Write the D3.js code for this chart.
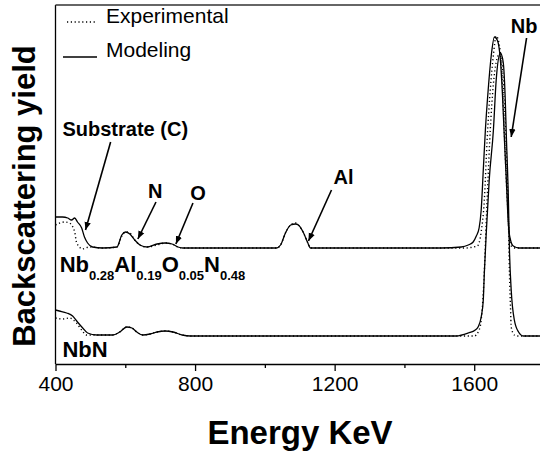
<!DOCTYPE html>
<html>
<head>
<meta charset="utf-8">
<script src="https://cdn.jsdelivr.net/npm/d3@7"></script>
<style>
  body { margin: 0; background: #fff; }
  svg { display: block; font-family: "Liberation Sans", Arial, sans-serif; }
</style>
</head>
<body>
<div id="chart"></div>
<script>
// RBS spectra, energies in keV, yields in arbitrary units (before stacking offset)
const topModelE = [400, 420, 435, 446, 455, 463, 475, 483, 492, 506, 535, 576, 590, 601, 613, 627, 642, 662, 691, 714, 734, 751, 765, 850, 950, 1033, 1045, 1059, 1074, 1088, 1096, 1111, 1122, 1131, 1300, 1505, 1563, 1583, 1597, 1606, 1614, 1620, 1626, 1632, 1640, 1649, 1658, 1666, 1675, 1681, 1686, 1692, 1698, 1704, 1712, 1729, 1800]
const topModelY = [59, 59, 58, 56, 58, 54, 48, 39, 33, 29, 28, 29, 41, 44, 42, 36, 31, 29, 32, 33, 32, 29, 28, 28, 28, 28, 31, 43, 51, 52, 51, 43, 34, 28, 28, 28, 29, 31, 34, 40, 48, 66, 106, 146, 186, 221, 239, 236, 216, 181, 141, 96, 51, 36, 30, 28, 28]

const topExpE = [400, 426, 440, 455, 460, 469, 475, 498, 535, 576, 590, 601, 613, 627, 642, 662, 691, 714, 734, 751, 765, 900, 1033, 1045, 1059, 1074, 1088, 1096, 1111, 1122, 1131, 1300, 1500, 1577, 1597, 1609, 1620, 1629, 1637, 1646, 1655, 1663, 1672, 1681, 1686, 1692, 1698, 1701, 1706, 1718, 1800]
const topExpY = [51, 54, 53, 44, 34, 29, 27, 29, 28, 29, 40, 44, 43, 36, 31, 29, 31, 33, 32, 29, 28, 28, 28, 31, 43, 51, 53, 51, 43, 34, 28, 28, 28, 28, 29, 30, 44, 76, 136, 186, 221, 240, 231, 191, 146, 96, 56, 38, 30, 28, 28]

const nbnModelE = [400, 411, 432, 449, 463, 478, 492, 518, 564, 584, 604, 619, 633, 650, 671, 691, 714, 737, 763, 786, 1000, 1300, 1548, 1583, 1603, 1611, 1620, 1626, 1629, 1635, 1643, 1655, 1663, 1675, 1683, 1689, 1692, 1698, 1701, 1706, 1715, 1727, 1741, 1800]
const nbnModelY = [54, 53, 51, 48, 42, 36, 31, 29, 29, 32, 37, 36, 32, 29, 30, 32, 33, 32, 29, 28, 28, 28, 28, 31, 34, 37, 47, 64, 91, 134, 184, 234, 284, 311, 302, 264, 229, 164, 114, 74, 44, 32, 28, 28]

const nbnExpE = [400, 420, 440, 460, 475, 489, 518, 564, 584, 604, 619, 633, 650, 671, 691, 714, 737, 763, 786, 1300, 1560, 1600, 1614, 1620, 1626, 1637, 1646, 1655, 1663, 1672, 1680, 1686, 1692, 1698, 1701, 1704, 1706, 1715, 1724, 1800]
const nbnExpY = [46, 45, 46, 41, 34, 29, 29, 29, 32, 37, 36, 32, 29, 30, 32, 33, 32, 29, 28, 28, 28, 28, 34, 44, 71, 164, 234, 280, 302, 310, 300, 264, 214, 144, 91, 57, 37, 29, 28, 28]

const topOffset = 88   // vertical shift of the Nb-Al-O-N spectrum

const xTicks = [400, 800, 1200, 1600]
const xMinorTicks = [600, 1000, 1400]

// annotations, positions in (keV, yield)
const labels = ["Substrate (C)", "N", "O", "Al", "Nb"]
const labelPos = [[420, 228], [665, 166], [786, 164], [1197, 180], [1705, 331]]
const arrowFrom = [[558, 222], [688, 162], [794, 161], [1191, 174], [1750, 326]]
const arrowTo = [[486, 134], [636, 125], [745, 120], [1125, 123], [1706, 227]]

const W = 540, H = 451
const plotLeft = 55.5, plotRight = 544, plotTop = 5, plotBottom = 364

const svg = d3.select("#chart").append("svg")
    .attr("width", W)
    .attr("height", H)

const x = d3.scaleLinear().domain([400, 1800]).range([plotLeft, plotRight])
const y = d3.scaleLinear().domain([0, 359]).range([plotBottom, plotTop])

const defs = svg.append("defs")
defs.append("clipPath").attr("id", "plotclip")
    .append("rect").attr("x", plotLeft).attr("y", plotTop)
    .attr("width", plotRight - plotLeft).attr("height", plotBottom - plotTop)

defs.append("marker")
    .attr("id", "arrow")
    .attr("viewBox", "0 0 10 10")
    .attr("refX", 10).attr("refY", 5)
    .attr("markerWidth", 5).attr("markerHeight", 5)
    .attr("markerUnits", "strokeWidth")
    .attr("orient", "auto")
    .append("path").attr("d", "M0,1 L10,5 L0,9 Z").attr("fill", "#000")

// frame
svg.append("line").attr("x1", plotLeft).attr("x2", plotLeft).attr("y1", plotTop).attr("y2", plotBottom)
    .attr("stroke", "#000").attr("stroke-width", 1.3)
svg.append("line").attr("x1", plotLeft).attr("x2", plotRight).attr("y1", plotTop).attr("y2", plotTop)
    .attr("stroke", "#333").attr("stroke-width", 1.5)

// x axis
const xAxis = svg.append("g").attr("class", "axis_x")
    .attr("transform", `translate(0,${plotBottom})`)
    .call(d3.axisBottom(x).tickValues(xTicks).tickFormat(d3.format("d"))
        .tickSize(7).tickSizeOuter(0).tickPadding(5))
xAxis.select(".domain").attr("stroke-width", 1.3)
xAxis.selectAll(".tick line").attr("stroke-width", 1.3)
xAxis.selectAll("text").attr("font-size", 21).attr("font-family", "Liberation Sans, Arial, sans-serif").attr("fill", "#000")

svg.append("g")
    .attr("transform", `translate(0,${plotBottom})`)
    .call(d3.axisBottom(x).tickValues(xMinorTicks).tickSize(4).tickFormat(""))
    .call(g => g.select(".domain").remove())
    .selectAll(".tick line").attr("stroke-width", 1.3)

// spectra
const line = d3.line()
    .x(d => x(d[0]))
    .y(d => y(d[1]))
    .curve(d3.curveMonotoneX)

const series = [
    {e: topModelE, v: topModelY, off: topOffset, dash: null},
    {e: topExpE, v: topExpY, off: topOffset, dash: "1.2,2.6"},
    {e: nbnModelE, v: nbnModelY, off: 0, dash: null},
    {e: nbnExpE, v: nbnExpY, off: 0, dash: "1.2,2.6"}
]

const plot = svg.append("g").attr("clip-path", "url(#plotclip)")
plot.selectAll("path.spectrum")
    .data(series)
    .enter().append("path")
    .attr("class", "spectrum")
    .attr("d", s => line(s.e.map((e, i) => [e, s.v[i] + s.off])))
    .attr("fill", "none")
    .attr("stroke", "#000")
    .attr("stroke-width", s => s.dash ? 1.4 : 1.3)
    .attr("stroke-dasharray", s => s.dash)

// annotations
svg.selectAll("line.arrow")
    .data(labels)
    .enter().append("line")
    .attr("class", "arrow")
    .attr("x1", (d, i) => x(arrowFrom[i][0]))
    .attr("y1", (d, i) => y(arrowFrom[i][1]))
    .attr("x2", (d, i) => x(arrowTo[i][0]))
    .attr("y2", (d, i) => y(arrowTo[i][1]))
    .attr("stroke", "#000")
    .attr("stroke-width", 1.6)
    .attr("marker-end", "url(#arrow)")

svg.selectAll("text.anno")
    .data(labels)
    .enter().append("text")
    .attr("class", "anno")
    .attr("x", (d, i) => x(labelPos[i][0]))
    .attr("y", (d, i) => y(labelPos[i][1]))
    .attr("font-size", 20)
    .attr("font-weight", "bold")
    .text(d => d)

// sample names with subscripts
const formula = [["Nb", "0.28"], ["Al", "0.19"], ["O", "0.05"], ["N", "0.48"]]
const ft = svg.append("text")
    .attr("x", x(412))
    .attr("y", y(92))
    .attr("font-size", 22)
    .attr("font-weight", "bold")
formula.forEach(([el, sub], i) => {
    ft.append("tspan").attr("dy", i === 0 ? 0 : -8).text(el)
    ft.append("tspan").attr("font-size", 13).attr("dy", 8).text(sub)
})

svg.append("text")
    .attr("x", x(420))
    .attr("y", y(7))
    .attr("font-size", 22)
    .attr("font-weight", "bold")
    .text("NbN")

// legend
const legend = svg.append("g").attr("class", "legend")
legend.append("line").attr("x1", 67).attr("x2", 97).attr("y1", 22).attr("y2", 22)
    .attr("stroke", "#000").attr("stroke-width", 1.3).attr("stroke-dasharray", "1.2,2.6")
legend.append("text").attr("x", 106).attr("y", 23).attr("font-size", 21).text("Experimental")
legend.append("line").attr("x1", 63).attr("x2", 97).attr("y1", 57).attr("y2", 57)
    .attr("stroke", "#000").attr("stroke-width", 1.3)
legend.append("text").attr("x", 106).attr("y", 57).attr("font-size", 21).text("Modeling")

// axis titles
svg.append("text")
    .attr("transform", "rotate(-90)")
    .attr("x", -196)
    .attr("y", 35)
    .attr("text-anchor", "middle")
    .attr("font-size", 31)
    .attr("font-weight", "bold")
    .text("Backscattering yield")

svg.append("text")
    .attr("x", 300)
    .attr("y", 444)
    .attr("text-anchor", "middle")
    .attr("font-size", 33)
    .attr("font-weight", "bold")
    .text("Energy KeV")
</script>
</body>
</html>
